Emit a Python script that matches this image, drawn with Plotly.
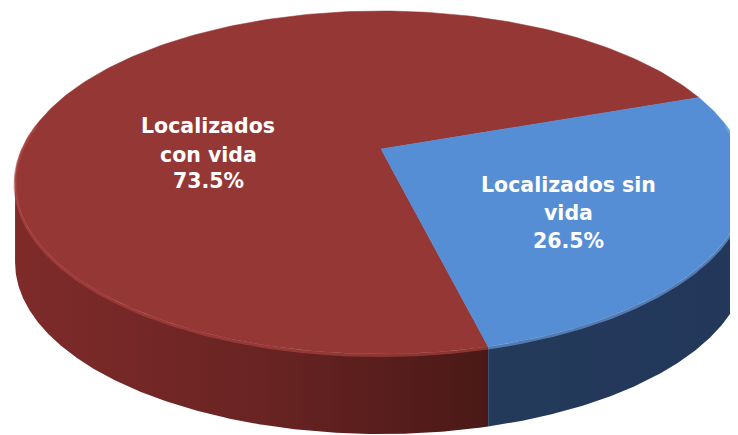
import numpy as np
import plotly.graph_objects as go

# ---- data ----
labels = ["Localizados con vida", "Localizados sin vida"]
values = [73.5, 26.5]
label_lines = [["Localizados", "con vida"], ["Localizados sin", "vida"]]

# ---- style ----
top_colors = ["#953735", "#558ED5"]
side_scales = [
    [[0, "#7e2b2a"], [0.5, "#6a2423"], [1, "#4a1917"]],
    [[0, "#243a5a"], [1, "#22375a"]],
]
rim_colors = ["#b24744", "#74a6e6"]
label_x = [208, 568]
label_y = [[126, 155, 181], [185, 213, 241]]

W, Hpx = 738, 435
OFF = 8  # page body margin
CX, CY = 381, 149
F = 1631.5
ELEV = np.radians(27.37)
DIST = 4.546
SIDE_PX = 80.0
START = 166.0  # degrees clockwise from 12 o'clock

sn, cs = np.sin(ELEV), np.cos(ELEV)


def proj(wx, wy):
    depth = DIST + wy * cs
    px = CX + F * wx / depth
    py = CY - F * (wy * sn) / depth
    return px, py


def arc(a0, a1, n=240):
    t = np.radians(np.linspace(a0, a1, n))
    return proj(np.sin(t), np.cos(t))


total = sum(values)
bounds = []
a = START
for v in values:
    span = 360.0 * v / total
    bounds.append((a, a + span))
    a += span

# silhouette angles of the top ellipse
sil = np.degrees(np.arccos(-cs / DIST))
front_lo, front_hi = sil, 360 - sil

fig = go.Figure()

# sides (visible front part only)
for i, (a0, a1) in enumerate(bounds):
    for k in (-1, 0, 1, 2):
        lo = max(a0, front_lo + 360 * k)
        hi = min(a1, front_hi + 360 * k)
        if hi <= lo:
            continue
        tx, ty = arc(lo, hi)
        xs = np.concatenate([tx, tx[::-1], tx[:1]])
        ys = np.concatenate([ty, ty[::-1] + SIDE_PX, ty[:1]])
        fig.add_trace(go.Scatter(
            x=xs, y=ys, mode="lines", fill="toself",
            line=dict(width=0, color=side_scales[i][0][1]),
            fillgradient=dict(type="horizontal", colorscale=side_scales[i]),
            hoverinfo="skip", showlegend=False))

# tops
for i, (a0, a1) in enumerate(bounds):
    ax_, ay_ = arc(a0, a1)
    cx0, cy0 = proj(0.0, 0.0)
    xs = np.concatenate([[cx0], ax_, [cx0]])
    ys = np.concatenate([[cy0], ay_, [cy0]])
    fig.add_trace(go.Scatter(
        x=xs, y=ys, mode="lines", fill="toself",
        fillcolor=top_colors[i], line=dict(width=0.5, color=top_colors[i]),
        hoverinfo="skip", showlegend=False, name=labels[i]))

# rim highlight along front top edge
for i, (a0, a1) in enumerate(bounds):
    for k in (-1, 0, 1, 2):
        lo = max(a0, front_lo - 20 + 360 * k)
        hi = min(a1, front_hi + 20 + 360 * k)
        if hi <= lo:
            continue
        tx, ty = arc(lo, hi)
        fig.add_trace(go.Scatter(
            x=tx, y=ty + 1.5, mode="lines",
            line=dict(width=3, color=rim_colors[i]), opacity=0.6,
            hoverinfo="skip", showlegend=False))

for i, v in enumerate(values):
    lines = label_lines[i] + [f"{v:.1f}%"]
    for j, t in enumerate(lines):
        fig.add_annotation(
            x=label_x[i], y=label_y[i][j], text=t, showarrow=False,
            xanchor="center", yanchor="middle", align="center",
            font=dict(family="DejaVu Sans", size=20.5, color="white",
                      weight="bold"))

fig.update_layout(
    width=W - OFF, height=Hpx - OFF, margin=dict(l=0, r=0, t=0, b=0),
    paper_bgcolor="white", plot_bgcolor="white",
    xaxis=dict(range=[OFF, W], visible=False, fixedrange=True),
    yaxis=dict(range=[Hpx, OFF], visible=False, fixedrange=True),
)

fig.write_html("out.html")
